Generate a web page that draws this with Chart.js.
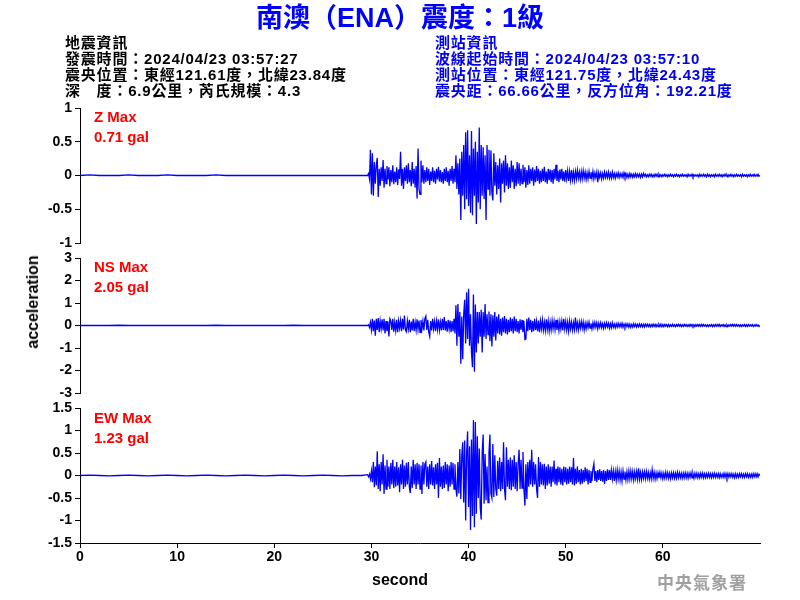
<!DOCTYPE html>
<html>
<head>
<meta charset="utf-8">
<script src="https://cdn.jsdelivr.net/npm/chart.js@4.4.0/dist/chart.umd.min.js"></script>
<style>
  body { margin: 0; background: #fff; }
  #wrap { position: relative; width: 800px; height: 600px; overflow: hidden;
          font-family: "Liberation Sans", Arial, "Noto Sans CJK TC", sans-serif; }
  canvas { position: absolute; left: 0; top: 0; }
  .txt { position: absolute; white-space: nowrap; font-weight: bold; }
  .info { font-size: 15px; line-height: 16px; top: 35px; letter-spacing: 0.8px; }
  .red { color: #ff0000; font-size: 15px; line-height: 20px; left: 94px; }
</style>
</head>
<body>
<div id="wrap">
  <canvas id="cZ" width="800" height="600"></canvas>
  <canvas id="cNS" width="800" height="600"></canvas>
  <canvas id="cEW" width="800" height="600"></canvas>

  <div class="txt" style="left:0;width:800px;text-align:center;top:3px;font-size:27px;line-height:30px;color:#0000ff;">南澳（ENA）震度：1級</div>
  <div class="txt info" style="left:65px;color:#000;">地震資訊<br>發震時間：2024/04/23 03:57:27<br>震央位置：東經121.61度，北緯23.84度<br>深　度：6.9公里，芮氏規模：4.3</div>
  <div class="txt info" style="left:435px;color:#0000ee;">測站資訊<br>波線起始時間：2024/04/23 03:57:10<br>測站位置：東經121.75度，北緯24.43度<br>震央距：66.66公里，反方位角：192.21度</div>

  <div class="txt red" style="top:107px;">Z Max<br>0.71 gal</div>
  <div class="txt red" style="top:257px;">NS Max<br>2.05 gal</div>
  <div class="txt red" style="top:408px;">EW Max<br>1.23 gal</div>

  <div class="txt" style="left:33px;top:302px;font-size:16px;transform:translate(-50%,-50%) rotate(-90deg);">acceleration</div>
  <div class="txt" style="left:400px;top:580px;font-size:16px;transform:translate(-50%,-50%);">second</div>
  <div class="txt" style="left:657px;top:569px;font-size:17px;letter-spacing:1px;color:#a0a0a0;font-family:'Noto Sans CJK TC',sans-serif;">中央氣象署</div>
</div>

<script>
// pre-event noise, one value per second from 0 s
const PRE_STEP = 1;
const preZ  = [0, 0.01, 0, 0, 0, 0.01, 0, 0, 0, 0.01, 0, 0, 0, 0, 0.01, 0, 0, 0, 0, 0, 0, 0, 0, 0, 0, 0, 0, 0, 0, 0];
const preNS = [0, 0, 0, 0, 0.01, 0, 0, 0, 0, 0, 0, 0, 0, 0, 0.01, 0, 0, 0, 0, 0, 0, 0, 0.01, 0, 0, 0, 0, 0, 0, 0];
const preEW = [0, 0.01, 0, -0.01, 0, 0.01, 0, -0.01, 0, 0.01, 0, -0.01, 0, 0.01, 0, -0.01, 0, 0.01, 0, -0.01, 0, 0.01, 0, -0.01, 0, 0.01, 0, -0.01, 0, 0];

// event section, every 0.1 s from 29.6 s to 70 s (one row = 1 s)
const EVT_START = 29.6;
const EVT_STEP = 0.1;
const evtZ = [
  0, 0.03, -0.05, 0.38, -0.28, 0.33, -0.30, 0.20, -0.12, 0.15,
  0.26, -0.32, 0.10, -0.15, 0.12, -0.08, 0.23, -0.18, 0.10, -0.12,
  0.14, -0.06, 0.12, -0.16, 0.08, -0.10, 0.15, -0.13, 0.06, -0.10,
  0.12, -0.14, 0.09, -0.05, 0.35, -0.15, 0.10, -0.20, 0.12, -0.08,
  0.15, -0.12, 0.18, -0.10, 0.08, -0.16, 0.20, -0.12, 0.10, -0.18,
  0.14, -0.34, 0.40, -0.20, -0.28, 0.22, -0.10, 0.15, -0.12, 0.08,
  -0.10, 0.12, -0.08, 0.10, -0.14, 0.06, -0.08, 0.12, -0.10, 0.07,
  -0.12, 0.10, -0.06, 0.13, -0.09, 0.08, -0.10, 0.05, -0.12, 0.10,
  -0.08, 0.12, -0.10, 0.07, -0.15, 0.10, -0.08, 0.14, -0.12, 0.10,
  -0.10, 0.30, -0.20, 0.18, -0.28, 0.25, -0.66, 0.35, -0.30, 0.45,
  -0.50, 0.64, -0.35, 0.67, -0.45, 0.30, -0.55, 0.66, -0.59, 0.40,
  -0.30, 0.50, -0.72, 0.35, -0.40, 0.71, -0.50, 0.45, -0.30, 0.42,
  -0.35, 0.30, -0.66, 0.45, -0.20, 0.38, -0.30, 0.37, -0.25, -0.37,
  0.33, -0.15, 0.20, -0.28, 0.15, -0.20, 0.25, -0.40, 0.18, -0.12,
  0.22, -0.25, 0.30, -0.15, 0.18, -0.20, 0.12, -0.18, 0.22, -0.10,
  0.15, -0.20, 0.10, -0.16, 0.20, -0.12, 0.18, -0.15, 0.10, -0.12,
  0.16, -0.10, 0.12, -0.18, 0.08, -0.14, 0.15, -0.12, 0.10, -0.08,
  0.12, -0.15, 0.09, -0.10, 0.14, -0.08, 0.10, -0.12, 0.07, -0.10,
  0.10, -0.08, 0.13, -0.10, 0.06, -0.12, 0.10, -0.07, 0.09, -0.10,
  0.08, -0.12, 0.10, -0.06, 0.16, -0.08, 0.07, -0.10, 0.09, -0.06,
  0.10, -0.08, 0.06, -0.09, 0.08, -0.05, 0.07, -0.08, 0.06, -0.07,
  0.08, -0.06, 0.05, -0.07, 0.06, -0.05, 0.08, -0.04, 0.05, -0.06,
  0.06, -0.05, 0.07, -0.04, 0.05, -0.06, 0.04, -0.05, 0.06, -0.04,
  0.05, -0.04, 0.06, -0.05, 0.04, -0.03, 0.05, -0.10, 0.04, -0.03,
  0.04, -0.05, 0.03, -0.04, 0.05, -0.03, 0.04, -0.03, 0.05, -0.04,
  0.03, -0.04, 0.05, -0.03, 0.03, -0.04, 0.03, -0.02, 0.04, -0.03,
  0.03, -0.02, 0.03, -0.03, 0.04, -0.02, 0.03, -0.03, 0.02, -0.03,
  0.03, -0.02, 0.02, -0.03, 0.02, -0.02, 0.03, -0.02, 0.02, -0.02,
  0.02, -0.03, 0.02, -0.02, 0.03, -0.01, 0.02, -0.02, 0.01, -0.02,
  0.02, -0.01, 0.02, -0.02, 0.01, -0.02, 0.02, -0.01, 0.02, -0.02,
  0.02, -0.01, 0.01, -0.02, 0.01, -0.01, 0.02, -0.01, 0.01, -0.02,
  0.01, -0.01, 0.02, -0.01, 0.01, -0.02, 0.01, -0.01, 0.02, -0.01,
  0.01, -0.02, 0.01, -0.01, 0.02, -0.01, 0.01, -0.01, 0.01, -0.02,
  0.02, -0.01, 0.01, -0.01, 0.02, -0.02, 0.01, -0.01, 0.01, -0.01,
  0.01, -0.02, 0.02, -0.01, 0.01, -0.01, 0.02, -0.01, 0.01, -0.02,
  0.02, -0.01, 0.01, -0.02, 0.01, -0.01, 0.01, -0.02, 0.02, -0.01,
  0.01, -0.01, 0.02, -0.01, 0.01, -0.02, 0.01, -0.01, 0.02, -0.01,
  0.01, -0.02, 0.01, -0.01, 0.02, -0.01, 0.01, -0.02, 0.01, -0.01,
  0.02, -0.01, 0.01, -0.01, 0.01, -0.02, 0.02, -0.01, 0.01, -0.01,
  0.01, -0.02, 0.01, -0.01, 0.02, -0.01, 0.01, -0.01, 0.02, -0.01,
  0.01, -0.01, 0.02, -0.01, 0
];
const evtNS = [
  0, 0.03, -0.08, 0.15, -0.20, 0.30, -0.25, 0.22, -0.45, 0.30,
  -0.20, 0.33, -0.30, 0.20, -0.15, 0.28, -0.22, 0.30, -0.35, 0.20,
  -0.25, 0.18, -0.49, 0.30, 0.20, -0.20, 0.30, -0.28, 0.15, -0.22,
  0.25, -0.30, 0.20, -0.12, 0.22, -0.25, 0.30, -0.18, 0.44, -0.20,
  -0.28, 0.20, -0.15, 0.25, -0.30, 0.18, -0.22, 0.30, -0.25, 0.15,
  -0.20, 0.28, -0.18, 0.22, -0.30, 0.25, -0.15, 0.20, -0.22, 0.30,
  0.41, -0.20, 0.25, -0.30, -0.49, 0.20, -0.22, 0.30, -0.15, 0.18,
  -0.25, 0.20, -0.18, 0.28, -0.20, 0.15, -0.22, 0.30, -0.20, 0.38,
  -0.22, 0.20, -0.28, 0.25, -0.15, 0.22, -0.30, 0.20, -0.25, 0.30,
  -0.35, 0.90, -0.90, 0.96, -0.50, 0.60, -1.70, 0.40, -1.50, 0.50,
  1.14, -0.80, 1.48, -0.60, 1.63, -0.90, 0.50, -1.20, -1.85, 1.38,
  -2.05, 0.93, -1.20, 0.60, -0.80, 0.60, -0.50, 0.70, -1.20, 0.60,
  -0.50, 0.96, -0.60, 0.50, -0.40, 0.62, -0.70, 0.50, -0.93, 0.45,
  -0.50, 0.60, -0.67, 0.40, -0.35, 0.50, -0.40, 0.30, -0.45, 0.35,
  -0.30, 0.42, -0.35, 0.30, -0.40, 0.25, -0.30, 0.35, -0.25, 0.30,
  -0.35, 0.40, -0.25, 0.30, -0.30, 0.20, -0.35, 0.28, -0.20, 0.25,
  -0.30, 0.20, -0.62, -0.60, 0.30, -0.25, 0.35, -0.20, 0.25, -0.30,
  0.20, -0.25, 0.30, -0.20, 0.18, -0.25, 0.22, -0.30, 0.20, -0.15,
  0.25, -0.20, 0.15, -0.22, 0.28, -0.18, 0.20, -0.25, 0.15, -0.20,
  0.22, -0.15, 0.20, -0.18, 0.25, -0.20, 0.15, -0.22, 0.18, -0.15,
  0.20, -0.22, 0.30, -0.15, 0.18, -0.20, 0.15, -0.25, 0.20, -0.15,
  0.15, -0.20, 0.12, -0.18, 0.35, -0.15, 0.12, -0.20, 0.15, -0.12,
  0.18, -0.12, 0.15, -0.20, 0.10, -0.15, 0.12, -0.10, 0.15, -0.12,
  0.10, -0.15, 0.12, -0.10, 0.14, -0.08, 0.12, -0.15, 0.10, -0.08,
  0.12, -0.10, 0.08, -0.12, 0.10, -0.08, 0.12, -0.06, 0.10, -0.12,
  0.08, -0.10, 0.12, -0.08, 0.06, -0.10, 0.08, -0.07, 0.10, -0.06,
  0.08, -0.06, 0.10, -0.08, 0.06, -0.07, 0.08, -0.05, 0.07, -0.08,
  0.06, -0.08, 0.05, -0.07, 0.08, -0.05, 0.06, -0.07, 0.05, -0.06,
  0.07, -0.05, 0.06, -0.06, 0.05, -0.07, 0.06, -0.04, 0.06, -0.05,
  0.05, -0.06, 0.04, -0.05, 0.06, -0.04, 0.05, -0.06, 0.04, -0.05,
  0.05, -0.04, 0.06, -0.05, 0.04, -0.05, 0.05, -0.03, 0.04, -0.05,
  0.04, -0.05, 0.03, -0.04, 0.05, -0.04, 0.03, -0.05, 0.04, -0.03,
  0.05, -0.03, 0.04, -0.05, 0.03, -0.04, 0.05, -0.03, 0.04, -0.04,
  0.03, -0.04, 0.05, -0.03, 0.04, -0.04, 0.03, -0.05, 0.04, -0.03,
  0.04, -0.03, 0.04, -0.04, 0.05, -0.03, 0.04, -0.03, 0.03, -0.04,
  0.03, -0.04, 0.03, -0.03, 0.04, -0.05, 0.03, -0.04, 0.04, -0.03,
  0.04, -0.03, 0.05, -0.04, 0.03, -0.03, 0.04, -0.04, 0.03, -0.05,
  0.03, -0.04, 0.03, -0.03, 0.04, -0.03, 0.05, -0.03, 0.04, -0.03,
  0.04, -0.03, 0.03, -0.04, 0.03, -0.04, 0.03, -0.03, 0.04, -0.04,
  0.03, -0.04, 0.04, -0.03, 0.03, -0.03, 0.04, -0.04, 0.03, -0.03,
  0.04, -0.03, 0.03, -0.04, 0
];
const evtEW = [
  0.02, -0.03, 0.03, -0.08, 0.10, -0.15, 0.30, -0.26, 0.20, -0.22,
  0.54, -0.30, 0.25, -0.35, 0.30, -0.20, 0.47, -0.41, 0.22, -0.30,
  0.35, -0.25, 0.20, -0.30, 0.28, -0.20, 0.35, -0.28, 0.20, -0.25,
  0.30, -0.22, 0.18, -0.37, 0.25, -0.20, 0.35, -0.30, 0.22, -0.25,
  0.28, -0.20, 0.30, -0.25, -0.39, 0.20, -0.28, 0.35, -0.20, 0.25,
  -0.30, 0.28, -0.20, 0.25, -0.30, 0.22, -0.41, 0.30, -0.20, 0.25,
  0.30, -0.25, 0.20, -0.30, 0.25, -0.20, 0.32, -0.22, 0.18, -0.30,
  0.25, -0.20, 0.28, -0.50, 0.39, -0.25, 0.20, -0.30, 0.22, -0.28,
  0.30, -0.20, 0.25, -0.35, 0.22, -0.25, 0.30, -0.20, 0.28, -0.30,
  0.25, -0.30, -0.47, 0.30, -0.40, 0.59, -0.52, 0.45, 0.74, -0.60,
  0.78, -1.00, 0.50, 0.98, -0.70, 0.65, -1.21, 0.80, -0.90, 1.23,
  -1.15, 1.19, -0.85, 0.87, -0.50, 0.60, -0.70, -0.98, 0.50, 0.91,
  -0.63, 0.48, -0.55, 0.20, -0.60, 0.50, 0.91, -0.40, -0.50, 0.70,
  -0.48, 0.45, -0.30, -0.45, 0.33, -0.30, 0.40, -0.35, 0.30, -0.30,
  0.74, -0.30, -0.55, 0.63, -0.25, 0.35, -0.30, 0.40, -0.33, 0.35,
  -0.25, 0.45, -0.30, 0.30, -0.35, 0.25, 0.57, -0.30, 0.35, -0.28,
  0.52, -0.30, -0.67, 0.25, -0.52, 0.30, -0.25, 0.35, -0.20, 0.57,
  -0.25, 0.30, -0.20, 0.25, -0.30, -0.50, 0.41, -0.25, 0.30, -0.20,
  0.25, -0.22, 0.26, -0.30, 0.20, -0.22, 0.25, -0.18, 0.20, -0.25,
  0.20, -0.15, 0.33, -0.20, 0.15, -0.22, 0.20, -0.15, 0.18, -0.20,
  0.15, -0.22, 0.20, -0.15, 0.18, -0.20, 0.15, -0.18, 0.20, -0.15,
  0.18, -0.20, 0.39, -0.22, 0.15, -0.18, 0.20, -0.15, 0.12, -0.20,
  0.15, -0.18, 0.12, -0.15, 0.18, -0.12, 0.15, -0.20, 0.12, -0.15,
  0.10, -0.12, 0.15, 0.26, -0.12, 0.10, -0.15, 0.12, -0.10, 0.14,
  -0.12, 0.10, -0.14, 0.12, -0.19, 0.10, -0.12, 0.14, -0.10, 0.12,
  -0.10, 0.12, -0.08, 0.10, -0.12, 0.09, -0.10, 0.12, -0.08, 0.10,
  -0.10, 0.08, -0.12, 0.10, -0.08, 0.09, -0.10, 0.08, -0.09, 0.10,
  -0.08, 0.10, -0.07, 0.09, -0.10, 0.08, -0.07, 0.09, -0.08, 0.16,
  -0.08, 0.07, -0.09, 0.08, -0.06, 0.08, -0.07, 0.09, -0.06, 0.07,
  -0.08, 0.06, -0.07, 0.13, -0.06, 0.07, -0.08, 0.06, -0.07, 0.06,
  -0.06, 0.07, -0.05, 0.06, -0.07, 0.05, -0.06, 0.07, -0.05, 0.06,
  -0.06, 0.05, -0.07, 0.06, -0.05, 0.06, -0.06, 0.05, -0.06, 0.07,
  -0.05, 0.06, -0.05, 0.05, -0.06, 0.05, -0.05, 0.06, -0.05, 0.05,
  -0.06, 0.05, -0.04, 0.06, -0.05, 0.04, -0.06, 0.05, -0.04, 0.05,
  -0.05, 0.04, -0.05, 0.05, -0.04, 0.05, -0.05, 0.04, -0.05, 0.04,
  -0.04, 0.05, -0.04, 0.04, -0.05, 0.04, -0.04, 0.05, -0.04, 0.04,
  -0.04, 0.04, -0.05, 0.04, -0.04, 0.03, -0.04, 0.05, -0.04, 0.04,
  -0.05, 0.04, -0.04, 0.04, -0.03, 0.04, -0.04, 0.03, -0.05, 0.04,
  -0.04, 0.03, -0.04, 0.04, -0.03, 0.04, -0.04, 0.03, -0.04, 0.04,
  -0.03, 0.04, -0.04, 0.03, -0.04, 0.03, -0.04, 0.04, -0.03, 0.04,
  -0.03, 0.04, -0.03, 0.03, 0
];

const X_MAX = 70;
const X_STEP = 10;

function toPoints(pre, evt) {
  const pts = pre.map((v, i) => ({ x: i * PRE_STEP, y: v }));
  evt.forEach((v, i) => pts.push({ x: +(EVT_START + i * EVT_STEP).toFixed(1), y: v }));
  return pts;
}

const tickFont = { family: '"Liberation Sans", Arial, sans-serif', size: 14, weight: 'bold' };

function makePanel(id, pre, evt, yMax, yStep, top, bottom, showX) {
  new Chart(document.getElementById(id), {
    type: 'line',
    data: {
      datasets: [{
        data: toPoints(pre, evt),
        borderColor: '#0000ff',
        borderWidth: 1.3,
        pointRadius: 0,
        tension: 0,
        fill: false
      }]
    },
    options: {
      responsive: false,
      animation: false,
      events: [],
      layout: { padding: { top: top, bottom: bottom, left: 0, right: 40 } },
      plugins: { legend: { display: false }, tooltip: { enabled: false } },
      scales: {
        x: {
          type: 'linear',
          min: 0,
          max: X_MAX,
          display: showX,
          afterBuildTicks: (s) => { s.ticks = s.ticks.filter(t => t.value < X_MAX); },
          afterFit: (s) => { s.height = showX ? 57 : 0; },
          border: { display: true, color: '#000', width: 1 },
          grid: { display: true, drawOnChartArea: false, drawTicks: true, tickLength: 5, color: '#000' },
          ticks: { stepSize: X_STEP, color: '#000', font: tickFont, padding: 1, maxRotation: 0 }
        },
        y: {
          min: -yMax,
          max: yMax,
          afterFit: (s) => { s.width = 80; },
          border: { display: true, color: '#000', width: 1 },
          grid: { display: true, drawOnChartArea: false, drawTicks: true, tickLength: 5, color: '#000' },
          ticks: {
            stepSize: yStep, color: '#000', font: tickFont, padding: 3,
            callback: (v) => String(+v.toFixed(2))
          }
        }
      }
    }
  });
}

makePanel('cZ', preZ, evtZ, 1, 0.5, 108, 357, false);
makePanel('cNS', preNS, evtNS, 3, 1, 258, 207, false);
makePanel('cEW', preEW, evtEW, 1.5, 0.5, 408, 0, true);
</script>
</body>
</html>
